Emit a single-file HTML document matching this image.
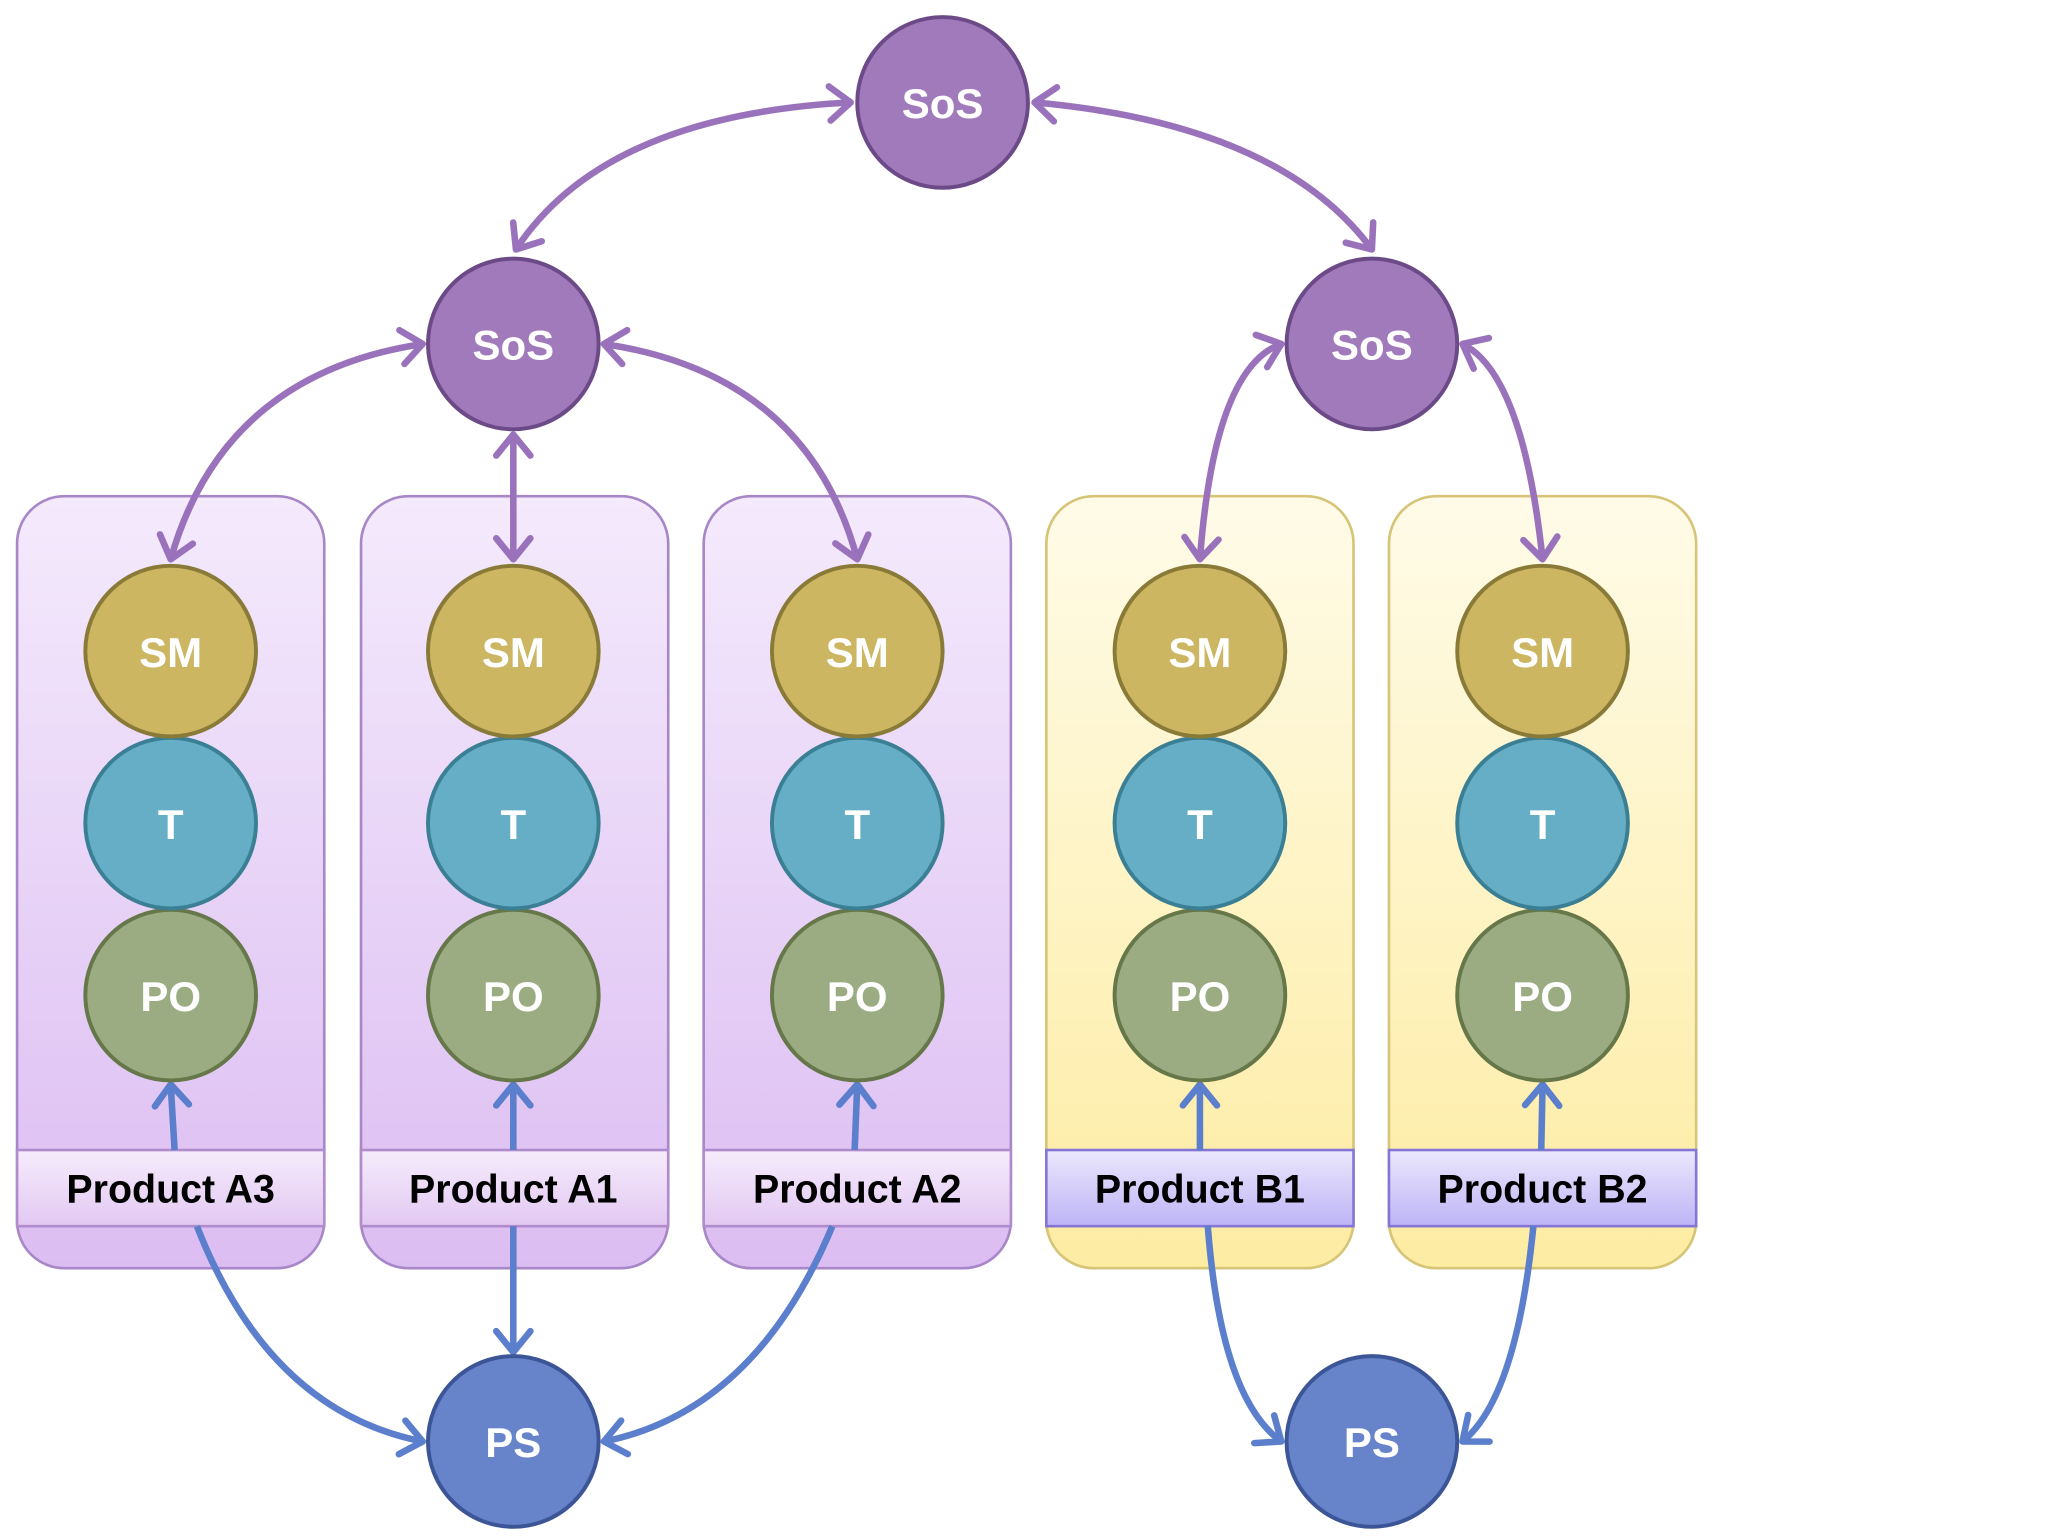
<!DOCTYPE html>
<html><head><meta charset="utf-8"><style>html,body{margin:0;padding:0;background:#fff}svg{display:block}</style></head>
<body>
<svg width="2048" height="1536" viewBox="0 0 1560 1170" preserveAspectRatio="none" xmlns="http://www.w3.org/2000/svg" font-family="Liberation Sans, sans-serif" font-weight="bold">
<defs>
<linearGradient id="gp" x1="0" y1="0" x2="0" y2="1"><stop offset="0" stop-color="#f4eafc"/><stop offset="1" stop-color="#dcbdf2"/></linearGradient>
<linearGradient id="gy" x1="0" y1="0" x2="0" y2="1"><stop offset="0" stop-color="#fffbe8"/><stop offset="1" stop-color="#fdeca2"/></linearGradient>
<linearGradient id="lp" x1="0" y1="0" x2="0" y2="1"><stop offset="0" stop-color="#f6ecfc"/><stop offset="1" stop-color="#e2c8f2"/></linearGradient>
<linearGradient id="lb" x1="0" y1="0" x2="0" y2="1"><stop offset="0" stop-color="#ece8fc"/><stop offset="1" stop-color="#bdb4f6"/></linearGradient>
<marker id="mp" viewBox="-20 -20 40 40" markerWidth="40" markerHeight="40" refX="0" refY="0" orient="auto-start-reverse" markerUnits="userSpaceOnUse"><polyline points="-16,-13 0,0 -16,13" fill="none" stroke="#9a72bc" stroke-width="5" stroke-linecap="round" stroke-linejoin="round"/></marker>
<marker id="mb" viewBox="-20 -20 40 40" markerWidth="40" markerHeight="40" refX="0" refY="0" orient="auto-start-reverse" markerUnits="userSpaceOnUse"><polyline points="-16,-13 0,0 -16,13" fill="none" stroke="#5b7fcc" stroke-width="5" stroke-linecap="round" stroke-linejoin="round"/></marker>
</defs>
<g stroke-width="2">
<rect x="13" y="378" width="234" height="588" rx="36" fill="url(#gp)" stroke="#a787c7"/>
<rect x="275" y="378" width="234" height="588" rx="36" fill="url(#gp)" stroke="#a787c7"/>
<rect x="536" y="378" width="234" height="588" rx="36" fill="url(#gp)" stroke="#a787c7"/>
<rect x="797" y="378" width="234" height="588" rx="36" fill="url(#gy)" stroke="#d6c477"/>
<rect x="1058" y="378" width="234" height="588" rx="36" fill="url(#gy)" stroke="#d6c477"/>
<rect x="13" y="876" width="234" height="58" fill="url(#lp)" stroke="#b08ccc"/>
<rect x="275" y="876" width="234" height="58" fill="url(#lp)" stroke="#b08ccc"/>
<rect x="536" y="876" width="234" height="58" fill="url(#lp)" stroke="#b08ccc"/>
<rect x="797" y="876" width="234" height="58" fill="url(#lb)" stroke="#8576d6"/>
<rect x="1058" y="876" width="234" height="58" fill="url(#lb)" stroke="#8576d6"/>
</g>
<g font-size="30" fill="#000" text-anchor="middle">
<text x="130" y="916">Product A3</text><text x="391" y="916">Product A1</text><text x="653" y="916">Product A2</text><text x="914" y="916">Product B1</text><text x="1175" y="916">Product B2</text>
</g>
<g fill="none" stroke="#9a72bc" stroke-width="5" marker-start="url(#mp)" marker-end="url(#mp)">
<path d="M648,78 Q460,88 393,190"/>
<path d="M788,78 Q975,95 1045,190"/>
<path d="M322,262 Q170,285 130,426"/>
<path d="M391,331 L391,426"/>
<path d="M460,262 Q615,285 653,426"/>
<path d="M976,262 Q925,280 914,426"/>
<path d="M1114,262 Q1160,285 1175,426"/>
</g>
<g fill="none" stroke="#5b7fcc" stroke-width="5" marker-end="url(#mb)">
<path d="M133,876 L130,826"/><path d="M391,876 L391,826"/><path d="M651,876 L653,826"/><path d="M914,876 L914,826"/><path d="M1174,876 L1175,826"/>
<path d="M150,934 Q205,1075 322,1098"/>
<path d="M391,934 L391,1030"/>
<path d="M634,934 Q575,1075 460,1098"/>
<path d="M920,934 Q930,1065 976,1098"/>
<path d="M1168,934 Q1155,1065 1114,1098"/>
</g>
<g stroke-width="3">
<g fill="#9bac82" stroke="#66774a"><circle cx="130" cy="758" r="65"/><circle cx="391" cy="758" r="65"/><circle cx="653" cy="758" r="65"/><circle cx="914" cy="758" r="65"/><circle cx="1175" cy="758" r="65"/></g>
<g fill="#66aec6" stroke="#3b7f95"><circle cx="130" cy="627" r="65"/><circle cx="391" cy="627" r="65"/><circle cx="653" cy="627" r="65"/><circle cx="914" cy="627" r="65"/><circle cx="1175" cy="627" r="65"/></g>
<g fill="#ccb662" stroke="#8a7a38"><circle cx="130" cy="496" r="65"/><circle cx="391" cy="496" r="65"/><circle cx="653" cy="496" r="65"/><circle cx="914" cy="496" r="65"/><circle cx="1175" cy="496" r="65"/></g>
<g fill="#a07aba" stroke="#6c4a88"><circle cx="718" cy="78" r="65"/><circle cx="391" cy="262" r="65"/><circle cx="1045" cy="262" r="65"/></g>
<g fill="#6784cb" stroke="#3c5597"><circle cx="391" cy="1098" r="65"/><circle cx="1045" cy="1098" r="65"/></g>
</g>
<g font-size="32" fill="#fff" text-anchor="middle">
<text x="718" y="90">SoS</text><text x="391" y="274">SoS</text><text x="1045" y="274">SoS</text>
<text x="130" y="508">SM</text><text x="391" y="508">SM</text><text x="653" y="508">SM</text><text x="914" y="508">SM</text><text x="1175" y="508">SM</text>
<text x="130" y="639">T</text><text x="391" y="639">T</text><text x="653" y="639">T</text><text x="914" y="639">T</text><text x="1175" y="639">T</text>
<text x="130" y="770">PO</text><text x="391" y="770">PO</text><text x="653" y="770">PO</text><text x="914" y="770">PO</text><text x="1175" y="770">PO</text>
<text x="391" y="1110">PS</text><text x="1045" y="1110">PS</text>
</g>
</svg>
</body></html>
